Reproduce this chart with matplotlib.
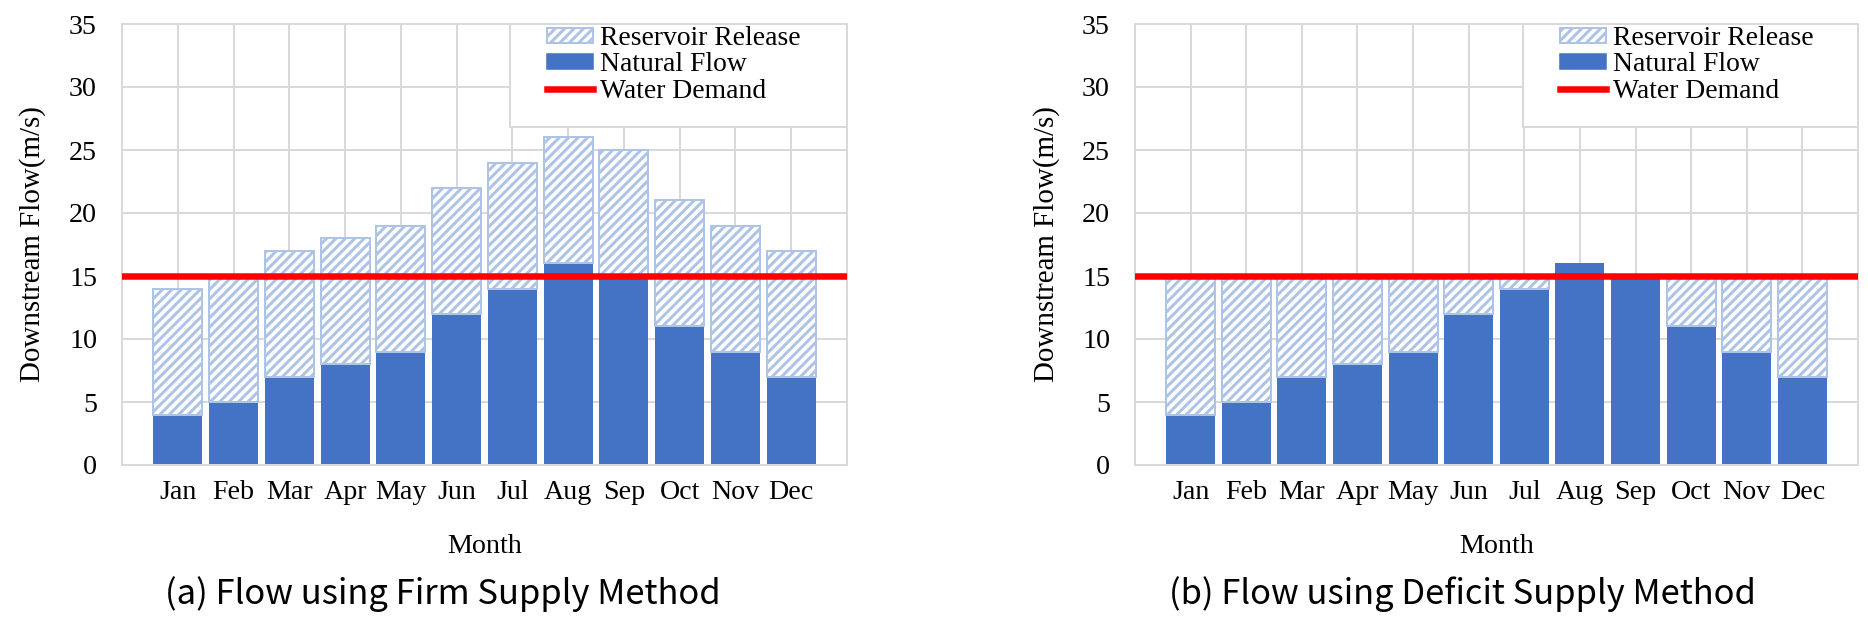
import numpy as np
import matplotlib.pyplot as plt
from matplotlib.patches import Patch, Rectangle
from matplotlib.lines import Line2D

months = ['Jan', 'Feb', 'Mar', 'Apr', 'May', 'Jun',
          'Jul', 'Aug', 'Sep', 'Oct', 'Nov', 'Dec']
natural_flow = [4, 5, 7, 8, 9, 12, 14, 16, 15, 11, 9, 7]
firm_release = [10, 10, 10, 10, 10, 10, 10, 10, 10, 10, 10, 10]
deficit_release = [11, 10, 8, 7, 6, 3, 1, 0, 0, 4, 6, 8]
water_demand = 15
y_ticks = [0, 5, 10, 15, 20, 25, 30, 35]
captions = ['(a) Flow using Firm Supply Method',
            '(b) Flow using Deficit Supply Method']

DPI = 113  # '////' hatch spacing ~ DPI/12 px
PX = 72 / DPI  # pixels -> points
HATCH = '////'

BLUE = '#4472C4'
LIGHT = '#ADC3E8'
GRID = '#D9D9D9'
RED = '#FF0000'
SERIF = 'Liberation Serif'

plt.rcParams['font.family'] = SERIF
plt.rcParams['hatch.linewidth'] = 3.0 * PX
plt.rcParams['hatch.color'] = LIGHT

fig = plt.figure(figsize=(1869 / DPI, 631 / DPI), dpi=DPI)

W, H = 1869, 631
panels = [(122, 847), (1135, 1858)]
top_px, bot_px = 24, 465

x = np.arange(len(months))

for k, ((l_px, r_px), release) in enumerate(zip(panels, [firm_release, deficit_release])):
    ax = fig.add_axes([l_px / W, 1 - bot_px / H, (r_px - l_px) / W, (bot_px - top_px) / H])

    # natural flow + stacked reservoir release
    ax.bar(x, natural_flow, width=0.88, color=BLUE, zorder=2)
    rel = np.array(release)
    idx = np.where(rel > 0)[0]
    ax.bar(x[idx], rel[idx], bottom=np.array(natural_flow)[idx], width=0.88,
           facecolor='white', edgecolor=LIGHT, linewidth=2 * PX, hatch=HATCH, zorder=2)

    ax.axhline(water_demand, color=RED, linewidth=6.5 * PX, zorder=3)

    ax.set_xlim(-1, 12)
    ax.set_ylim(0, 35)
    ax.set_xticks(x)
    ax.set_xticklabels(months)
    ax.set_yticks(y_ticks)
    ax.tick_params(axis='both', length=0, labelsize=28 * PX, colors='black')
    ax.tick_params(axis='y', pad=25 * PX)
    ax.tick_params(axis='x', pad=15 * PX)
    ax.grid(True, color=GRID, linewidth=2 * PX, zorder=0)
    ax.set_axisbelow(True)
    for sp in ax.spines.values():
        sp.set_color(GRID)
        sp.set_linewidth(2 * PX)

    ax.set_ylabel('Downstream Flow(m/s)', fontsize=29 * PX, va='center')
    ax.yaxis.set_label_coords(-0.123, 0.5)
    ax.set_xlabel('Month', fontsize=28 * PX, va='baseline')
    ax.xaxis.set_label_coords(0.5, (bot_px - 553) / (bot_px - top_px))

    # legend box
    lx0 = (510 - 122) / 725 if k == 0 else (1523 - 1135) / 723
    ax.add_patch(Rectangle((lx0, (bot_px - 127) / (bot_px - top_px)), 1 - lx0,
                           1 - (bot_px - 127) / (bot_px - top_px),
                           transform=ax.transAxes, facecolor='white', edgecolor=GRID,
                           linewidth=2 * PX, zorder=4, clip_on=False))
    handles = [
        Patch(facecolor='white', edgecolor=LIGHT, hatch=HATCH, linewidth=2 * PX),
        Patch(facecolor=BLUE, edgecolor=BLUE),
        Line2D([0], [0], color=RED, linewidth=6.5 * PX),
    ]
    hx = lx0 + 37 / 725
    leg = ax.legend(handles, ['Reservoir Release', 'Natural Flow', 'Water Demand'],
                    loc='upper left', bbox_to_anchor=(hx, (bot_px - 26) / (bot_px - top_px)),
                    frameon=False, fontsize=27.7 * PX, borderpad=0, borderaxespad=0,
                    handlelength=1.66, handleheight=0.47, handletextpad=0.25,
                    labelspacing=0.05)
    leg.set_zorder(5)

    cx = 443 / W if k == 0 else 1462 / W
    fig.text(cx, 1 - 604 / H, captions[k], ha='center', va='baseline',
             fontsize=34.6 * PX, family=['Noto Sans CJK KR', 'DejaVu Sans'])

fig.savefig('out.png', dpi=DPI)
